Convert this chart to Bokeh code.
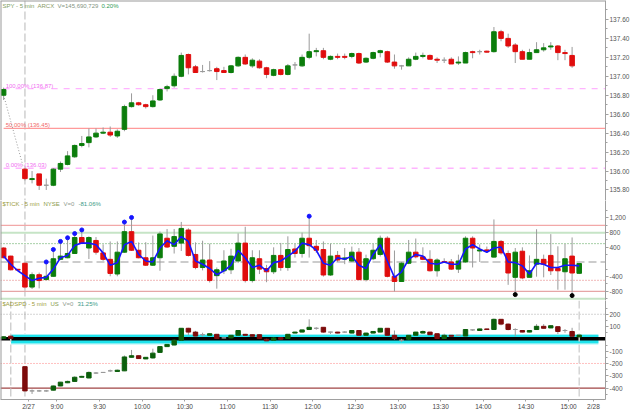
from bokeh.plotting import figure
from bokeh.layouts import column
from bokeh.models import Range1d, FixedTicker, Span, Label, ColumnDataSource, NumeralTickFormatter, BoxAnnotation
from bokeh.core.properties import value
from bokeh.embed import file_html
from bokeh.resources import INLINE

# ---------------- data ----------------
# bar index: 0 = first 5-min bar of 2/27 (8:35); negative = end of 2/26
price_bar = [-3] + list(range(0, 78))
price_open = [136.80, 136.02, 135.91, 135.97, 135.85, 135.85, 136.02, 136.07, 136.15, 136.27,
              136.30, 136.36, 136.40, 136.41, 136.37, 136.44, 136.68, 136.72, 136.70, 136.68,
              136.75, 136.87, 136.90, 137.00, 137.23, 137.10, 137.05, 137.06, 137.08, 137.06,
              137.04, 137.11, 137.20, 137.11, 137.16, 137.09, 137.01, 137.07, 137.02, 137.12,
              137.11, 137.20, 137.26, 137.27, 137.18, 137.21, 137.21, 137.21, 137.24, 137.15,
              137.19, 137.25, 137.26, 137.15, 137.11, 137.11, 137.18, 137.21, 137.22, 137.18,
              137.17, 137.18, 137.14, 137.14, 137.26, 137.26, 137.265, 137.26, 137.47, 137.40,
              137.33, 137.26, 137.18, 137.25, 137.28, 137.31, 137.32, 137.25, 137.22]
price_high = [136.88, 136.03, 136.00, 135.97, 135.92, 136.03, 136.10, 136.21, 136.28, 136.37,
              136.45, 136.45, 136.46, 136.47, 136.44, 136.70, 136.82, 136.73, 136.71, 136.80,
              136.87, 136.91, 137.03, 137.25, 137.24, 137.12, 137.12, 137.16, 137.10, 137.10,
              137.12, 137.21, 137.23, 137.19, 137.18, 137.10, 137.08, 137.08, 137.13, 137.15,
              137.23, 137.45, 137.30, 137.30, 137.22, 137.24, 137.24, 137.25, 137.25, 137.20,
              137.26, 137.28, 137.27, 137.23, 137.12, 137.20, 137.25, 137.25, 137.23, 137.20,
              137.20, 137.20, 137.21, 137.26, 137.27, 137.28, 137.27, 137.52, 137.49, 137.45,
              137.35, 137.28, 137.29, 137.36, 137.35, 137.36, 137.33, 137.28, 137.31]
price_low = [136.75, 135.90, 135.87, 135.80, 135.80, 135.84, 135.99, 136.06, 136.14, 136.25,
             136.25, 136.35, 136.39, 136.36, 136.35, 136.42, 136.67, 136.69, 136.66, 136.67,
             136.74, 136.84, 136.88, 136.99, 137.02, 137.04, 137.04, 137.05, 136.96, 137.04,
             137.03, 137.10, 137.12, 137.09, 137.08, 136.98, 137.00, 137.01, 137.01, 137.07,
             137.10, 137.18, 137.21, 137.18, 137.17, 137.18, 137.18, 137.19, 137.13, 137.14,
             137.18, 137.20, 137.14, 137.08, 137.07, 137.11, 137.17, 137.19, 137.18, 137.14,
             137.14, 137.13, 137.12, 137.14, 137.19, 137.23, 137.25, 137.25, 137.37, 137.30,
             137.14, 137.18, 137.18, 137.25, 137.26, 137.28, 137.17, 137.17, 137.09]
price_close = [136.86, 135.92, 135.92, 135.85, 135.85, 136.02, 136.08, 136.16, 136.27, 136.29,
               136.36, 136.40, 136.41, 136.38, 136.42, 136.68, 136.72, 136.70, 136.68, 136.74,
               136.86, 136.89, 137.00, 137.22, 137.09, 137.04, 137.05, 137.06, 137.05, 137.04,
               137.11, 137.20, 137.13, 137.17, 137.09, 137.02, 137.07, 137.02, 137.11, 137.12,
               137.20, 137.26, 137.27, 137.20, 137.21, 137.20, 137.20, 137.24, 137.14, 137.19,
               137.25, 137.27, 137.15, 137.11, 137.11, 137.18, 137.21, 137.22, 137.18, 137.17,
               137.17, 137.13, 137.15, 137.25, 137.25, 137.26, 137.255, 137.47, 137.40, 137.32,
               137.26, 137.18, 137.25, 137.28, 137.30, 137.32, 137.25, 137.24, 137.11]
price_last = "137.11"
fib_levels = [136.87, 136.45, 136.03]
fib_labels = ["100.00% (136.87)", "50.00% (136.45)", "0.00% (136.03)"]
fib_anchor_x = [-3, -0.3]
fib_anchor_y = [136.80, 136.06]
price_ticks = [135.8, 136.0, 136.2, 136.4, 136.6, 136.8, 137.0, 137.2, 137.4, 137.6]

tick_bar = [-3, -2, -1] + list(range(0, 79))
tick_open = [381, 160, -200, -35, -685, -347, -480, -391, 72, 115,
             232, 667, 381, 587, 248, 72, -328, 267, 827, 320,
             115, -88, 115, 648, 427, 515, 872, 205, -152, 53,
             -373, -240, -213, 27, 515, -507, 88, -178, -267, 179,
             -152, 355, 232, 648, 427, 339, -355, 179, 80, 27,
             267, -480, 88, 205, 648, -392, -533, -35, 267, 141,
             72, -240, 10, 0, -195, 0, 648, 300, 330, 133,
             560, 232, -419, 293, -419, -61, 72, 179, -178, -267,
             160, -310]
tick_high = [400, 170, -190, -20, -285, -290, 0, 340, 561, 660,
             775, 874, 700, 680, 480, 560, 560, 1088, 1214, 535,
             540, 720, 830, 900, 900, 1093, 920, 535, 580, 500,
             -150, 320, 360, 780, 960, 320, 320, -80, 400, 520,
             700, 500, 800, 1249, 600, 560, 500, 300, 380, 420,
             380, 200, 500, 720, 700, 313, 0, 600, 640, 400,
             320, 100, 100, 80, 200, 700, 700, 480, 420, 1160,
             600, 313, 380, 400, 179, 893, 200, 760, 428, 492,
             669, -30]
tick_low = [100, -230, -235, -728, -738, -720, -500, -400, 50, 100,
            220, 500, 80, 200, 30, -390, -390, 250, 300, 100,
            -110, -110, -240, 380, 230, 300, 150, -200, -230, -560,
            -728, -330, -330, -30, -560, -560, -330, -552, -330, -240,
            -240, 120, 120, 120, 250, -400, -380, 0, -60, 0,
            -500, -530, 50, 150, -420, -802, -540, -60, 100, 50,
            -260, -400, -30, -220, -300, -20, -150, 0, 250, 120,
            200, -624, -890, -470, -419, -401, -419, -356, -757, -757,
            -917, -330]
tick_close = [115, -213, -222, -685, -347, -507, -391, 88, 160, 232,
              667, 515, 667, 267, 72, -312, 267, 827, 320, 115,
              -88, 115, 765, 408, 693, 915, 179, -152, 53, -507,
              -213, 27, 160, 515, -507, 115, -195, -267, 179, -152,
              339, 232, 648, 445, 320, -355, 160, 53, 110, 267,
              -480, 88, 320, 648, -392, -533, -35, 267, 141, 72,
              -240, 53, 0, -195, 27, 648, 381, 330, 300, 560,
              248, -301, 267, -435, -240, 72, -61, -240, -240, 88,
              -301, -43]
tick_avg = [160, -62, -240, -373, -507, -445, -419, -195, 115, 179,
            453, 515, 515, 472, 248, -88, -18, 472, 560, 205,
            27, 0, 381, 578, 472, 693, 560, 27, -62, -178,
            -347, -240, -88, 320, 115, -152, -88, -240, -18, 27,
            160, 293, 515, 472, 320, -35, -88, 115, 72, 160,
            -88, -178, 205, 472, 27, -419, -267, 72, 205, 160,
            -35, -62, 0, -62, -62, 355, 472, 355, 267, 381,
            408, 0, -18, -107, -328, -35, -62, -152, -152, -88,
            -88, -107]
tick_newhigh_bar = [3, 4, 5, 6, 7, 8, 14, 15, 40]
tick_newhigh_val = [0, 340, 561, 660, 775, 874, 1088, 1214, 1249]
tick_newlow_bar = [69, 77]
tick_newlow_val = [-890, -917]
tick_last = "-43"
tick_ticks = [-800, -400, 400, 800, 1200]

ad_bar = [-3, -2] + list(range(0, 79))
ad_open = [4, 22, -226, -423, -423, -423, -417, -383, -357, -346,
           -312, -318, -278, -273, -260, -265, -260, -150, -137, -163,
           -155, -110, -63, -50, -11, 86, 55, 34, 29, 37,
           8, 8, 29, 37, 34, 34, -3, -11, 10, 3,
           47, 55, 76, 86, 94, 55, 55, 55, 47, 68,
           29, 47, 55, 86, 29, -11, -3, 29, 47, 55,
           42, 3, 29, 29, 23, 73, 68, 81, 76, 159,
           120, 76, 68, 55, 76, 102, 89, 99, 68, 60,
           16]
ad_high = [20, 25, -220, -412, -415, -415, -380, -350, -340, -305,
           -300, -265, -270, -270, -250, -250, -135, -90, -135, -148,
           -80, -60, -43, -8, 88, 90, 65, 50, 45, 40,
           10, 32, 70, 40, 37, 36, 0, 10, 12, 40,
           58, 75, 159, 95, 96, 58, 57, 62, 72, 70,
           50, 62, 88, 88, 68, 0, 31, 57, 68, 57,
           44, 42, 31, 31, 78, 76, 84, 83, 165, 161,
           125, 86, 70, 70, 120, 120, 110, 101, 80, 90,
           33]
ad_low = [0, 2, -425, -448, -430, -430, -420, -385, -360, -348,
          -315, -320, -285, -276, -268, -267, -262, -152, -162, -165,
          -160, -112, -65, -52, -13, 30, 15, 20, 25, 0,
          6, 6, 27, 25, 18, 0, -18, -13, -5, 0,
          45, 53, 74, 75, 50, 40, 45, 48, 45, 27,
          27, 45, 53, 27, -5, -25, -5, 27, 45, 32,
          0, 0, 19, 27, 21, 65, 66, 74, 74, 110,
          70, 20, 53, 53, 74, 84, 87, 40, 50, 19,
          14]
ad_close = [17, 4, -423, -423, -423, -423, -383, -352, -346, -312,
            -305, -273, -278, -273, -260, -255, -147, -137, -160, -150,
            -116, -63, -45, -11, 86, 55, 23, 34, 42, 3,
            8, 29, 68, 29, 21, 3, -16, 8, -3, 37,
            55, 73, 94, 86, 55, 55, 47, 55, 68, 29,
            47, 60, 86, 29, 3, -11, 29, 55, 60, 34,
            3, 29, 21, 29, 76, 73, 81, 76, 159, 120,
            76, 76, 55, 68, 102, 86, 107, 60, 68, 21,
            31]
ad_last = "31"
ad_ticks = [-400, -300, -200, -100, 100, 200]

time_labels = ["2/27", "9:00", "9:30", "10:00", "10:30", "11:00", "11:30", "12:00",
               "12:30", "13:00", "13:30", "14:00", "14:30", "15:00", "2/28"]
time_label_bar = [1, 5, 11, 17, 23, 29, 35, 41, 47, 53, 59, 65, 71, 77, 80.5]
day_start_bar = 0
session_bar = 78
prev_marker_bar = -2

# ---------------- layout / style ----------------
W = 632
RB = 26
FONT = "Liberation Sans"
FS = "6.5px"
TFS = "6px"
X_START, X_END = -3.44, 81.7
xr = Range1d(X_START, X_END)


def make_fig(h, yr, xaxis=False):
    p = figure(width=W, height=h, x_range=xr, y_range=yr, output_backend="svg",
               toolbar_location=None, x_axis_location=("below" if xaxis else None),
               y_axis_location="right", min_border_left=0, min_border_top=0,
               min_border_bottom=0, min_border_right=RB, outline_line_color=None,
               background_fill_color="white", border_fill_color="white")
    p.grid.visible = False
    ax = p.yaxis[0]
    ax.axis_line_color = "#a0a0a0"
    ax.major_tick_line_color = "#a0a0a0"
    ax.minor_tick_line_color = "#a0a0a0"
    ax.major_tick_out = 3
    ax.major_tick_in = 0
    ax.minor_tick_out = 2
    ax.minor_tick_in = 0
    ax.major_label_standoff = 1
    ax.major_label_text_font = FONT
    ax.major_label_text_font_size = FS
    ax.major_label_text_color = "#555555"
    p.add_layout(Span(location=X_START, dimension="height", line_color="#9a9a9a", line_width=2))
    p.add_layout(Span(location=day_start_bar, dimension="height", line_color="#cfcfcf",
                      line_width=1.5, line_dash="8 3", level="underlay"))
    return p


def draw_candles(p, xs, o, h, l, c, up, dn, flat="#9a9a9a", w=0.64):
    col = [up if b > a else (dn if b < a else flat) for a, b in zip(o, c)]
    top = [max(a, b) for a, b in zip(o, c)]
    bot = [min(a, b) for a, b in zip(o, c)]
    src = ColumnDataSource(dict(x=xs, h=h, l=l, top=top, bot=bot, col=col))
    p.segment(x0="x", y0="l", x1="x", y1="h", source=src, line_color="#9a9a9a", line_width=1)
    p.vbar(x="x", width=w, top="top", bottom="bot", source=src, fill_color="col",
           line_color="col", line_width=1)


def title(p, parts, frac):
    rng = p.y_range
    y = rng.end - frac * (rng.end - rng.start)
    for txt, px, colr in parts:
        p.add_layout(Label(x=X_START, y=y, x_offset=px, text=txt, text_baseline="middle",
                           text_font=FONT, text_font_size=TFS, text_color=colr))


def last_box(p, y, txt, bg):
    p.add_layout(Label(x=X_END, y=y, x_offset=1, text=txt, text_baseline="middle",
                       text_align="left", text_font=FONT, text_font_size=FS,
                       text_font_style="bold", text_color="white",
                       background_fill_color=bg, padding=2))


UP, DN = "#0b7d0b", "#e00d0d"

# ---------------- price panel ----------------
p1 = make_fig(200, Range1d(135.689, 137.80))
p1.yaxis[0].ticker = FixedTicker(ticks=price_ticks,
                                 minor_ticks=[t + 0.1 for t in price_ticks])
p1.yaxis[0].formatter = NumeralTickFormatter(format="0.00")
p1.add_layout(Span(location=137.80, dimension="width", line_color="#9a9a9a", line_width=2))
fib_src = ColumnDataSource(dict(x0=[fib_anchor_x[0]] * 3, x1=[X_END] * 3, y=fib_levels,
                                lab=fib_labels,
                                col=["#ffb4ff", "#ff9a9a", "#ffb4ff"],
                                tcol=["#f070f0", "#f06a6a", "#f070f0"],
                                dash=["dashed", "solid", "dashed"]))
p1.segment(x0="x0", y0="y", x1="x1", y1="y", source=fib_src, line_color="col",
           line_width=1.4, line_dash="dash")
p1.text(x="x0", y="y", text="lab", source=fib_src, text_color="tcol",
        text_font=value(FONT), text_font_size=TFS, text_baseline="bottom", x_offset=2)
p1.line(fib_anchor_x, fib_anchor_y, line_color="#9a9a9a", line_dash="1 2", line_width=1)
draw_candles(p1, price_bar, price_open, price_high, price_low, price_close, UP, DN)
title(p1, [("SPY - 5 min", 2, "#7d9d62"), ("ARCX", 37, "#8a9a66"),
           ("V=145,690,729", 57, "#7f947f"), ("0.20%", 101, "#2f9a55")], 5.5 / 204)
last_box(p1, float(price_last), price_last, "#dd1111")

# ---------------- TICK panel ----------------
p2 = make_fig(100, Range1d(-1051, 1677))
p2.yaxis[0].ticker = FixedTicker(ticks=tick_ticks,
                                 minor_ticks=[-1000, -600, -200, 200, 600, 1000, 1400])
p2.yaxis[0].formatter = NumeralTickFormatter(format="0,0")
for lvl, colr, wd, dash in [(1000, "#f2a8a8", 1.3, "solid"), (800, "#c6e4c6", 2, "solid"),
                            (500, "#4f9f4f", 1, "1 2"), (0, "#cccccc", 2, "8 4"),
                            (-500, "#e07070", 1, "1 2"), (-800, "#e6a6a6", 1.3, "solid"),
                            (-1000, "#c6e4c6", 2, "solid")]:
    p2.add_layout(Span(location=lvl, dimension="width", line_color=colr, line_width=wd,
                       line_dash=dash, level="underlay"))
draw_candles(p2, tick_bar, tick_open, tick_high, tick_low, tick_close, UP, DN)
p2.line(tick_bar, tick_avg, line_color="#1515ff", line_width=1.6)
p2.scatter(tick_newhigh_bar, tick_newhigh_val, size=4, color="#1515ff")
p2.scatter(tick_newlow_bar, tick_newlow_val, size=4, color="black")
title(p2, [("$TICK - 5 min", 2, "#9c9c3a"), ("NYSE", 43, "#8a9a4a"),
           ("V=0", 63, "#8f9a8f"), ("-81.06%", 78, "#3a9a86")], 3.5 / 102)
last_box(p2, float(tick_last), tick_last, "#0b6e0b")

# ---------------- ADSPD panel ----------------
p3 = make_fig(112, Range1d(-493, 312), xaxis=True)
p3.yaxis[0].ticker = FixedTicker(ticks=ad_ticks,
                                 minor_ticks=[-450, -350, -250, -150, -50, 50, 150, 250])
p3.yaxis[0].formatter = NumeralTickFormatter(format="0")
xa = p3.xaxis[0]
xa.ticker = FixedTicker(ticks=[b - 0.5 for b in time_label_bar])
xa.major_label_overrides = {b - 0.5: t for b, t in zip(time_label_bar, time_labels)}
xa.axis_line_color = "#a0a0a0"
xa.major_tick_line_color = "#a0a0a0"
xa.major_tick_out = 2
xa.major_tick_in = 0
xa.minor_tick_line_color = None
xa.major_label_standoff = 1
xa.major_label_text_font = FONT
xa.major_label_text_font_size = FS
xa.major_label_text_color = "#444444"
p3.add_layout(BoxAnnotation(bottom=-45, top=40, left=prev_marker_bar + 0.05, right=80.7,
                            fill_color="#a8f3f6", fill_alpha=1, line_color=None, level="underlay"))
p3.add_layout(BoxAnnotation(bottom=-35, top=31, left=prev_marker_bar + 0.05, right=80.7,
                            fill_color="#1fe3ec", fill_alpha=1, line_color=None, level="underlay"))
for lvl, colr, wd, dash in [(200, "#aaaaaa", 1, "1 2"), (-200, "#ff8080", 1, "1 2"),
                            (-400, "#a04545", 1.3, "solid"), (0, "#000000", 3.5, "solid")]:
    p3.add_layout(Span(location=lvl, dimension="width", line_color=colr, line_width=wd,
                       line_dash=dash, level="underlay"))
p3.add_layout(Span(location=prev_marker_bar, dimension="height", line_color="#cfcfcf",
                   line_width=1.5, line_dash="8 3", level="underlay"))
p3.add_layout(Span(location=session_bar, dimension="height", line_color="#d5d5d5",
                   line_width=1.5, line_dash="8 3", level="underlay"))
draw_candles(p3, ad_bar, ad_open, ad_high, ad_low, ad_close, "#0b5e0b", "#7d0b0b", w=0.62)
title(p3, [("$ADSPD - 5 min", 2, "#9c9c3a"), ("US", 50, "#8a9a4a"),
           ("V=0", 62, "#8f9a8f"), ("31.25%", 77, "#3a9a86")], 4 / 102)
last_box(p3, float(ad_last), ad_last, "#0b6e0b")

layout = column(p1, p2, p3, spacing=0)
open("out.html", "w").write(file_html(layout, INLINE))
